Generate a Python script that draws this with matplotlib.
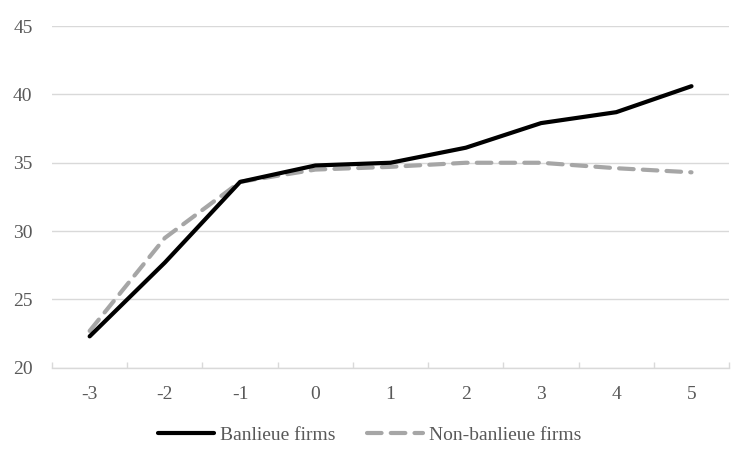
import matplotlib
matplotlib.use("Agg")
import matplotlib.pyplot as plt
from matplotlib.ticker import FixedLocator

years = ["-3", "-2", "-1", "0", "1", "2", "3", "4", "5"]
banlieue = [22.3, 27.7, 33.6, 34.8, 35.0, 36.1, 37.9, 38.7, 40.6]
non_banlieue = [22.7, 29.5, 33.6, 34.5, 34.7, 35.0, 35.0, 34.6, 34.3]
yticks = [20, 25, 30, 35, 40, 45]

plt.rcParams['font.family'] = ['Liberation Serif', 'DejaVu Serif']

fig = plt.figure(figsize=(7.54, 4.65), dpi=100)
ax = fig.add_axes([0.069, 0.209, 0.898, 0.735])

x = list(range(len(years)))
ax.plot(x, non_banlieue, color='#A6A6A6', lw=3, dashes=(3.5, 2.2), label='Non-banlieue firms', zorder=3, solid_capstyle='round', dash_capstyle='round')
ax.plot(x, banlieue, color='black', lw=3, label='Banlieue firms', zorder=4, solid_capstyle='round')

ax.set_xlim(-0.5, len(years) - 0.5)
ax.set_ylim(20, 45)
ax.set_yticks(yticks)
ax.set_xticks(x)
ax.set_xticklabels(years)
ax.xaxis.set_minor_locator(FixedLocator([i - 0.5 for i in range(len(years) + 1)]))

ax.grid(axis='y', color='#D9D9D9', lw=1)
ax.set_axisbelow(True)
for s in ['left', 'right', 'top']:
    ax.spines[s].set_visible(False)
ax.spines['bottom'].set_color('#D9D9D9')
ax.spines['bottom'].set_linewidth(1)

ax.tick_params(axis='y', length=0, pad=14, labelsize=14, labelcolor='#595959')
ax.tick_params(axis='x', which='major', length=0, pad=13, labelsize=14, labelcolor='#595959')
ax.tick_params(axis='x', which='minor', length=4, direction='in', color='#D9D9D9', width=1)

handles, labels = ax.get_legend_handles_labels()
fig.legend(handles[::-1], labels[::-1], loc='center', bbox_to_anchor=(0.49, 0.065), ncol=2,
           frameon=False, fontsize=14, handlelength=2.9, columnspacing=1.6, handletextpad=0.3,
           labelcolor='#595959')

fig.savefig('out.png', dpi=100)
